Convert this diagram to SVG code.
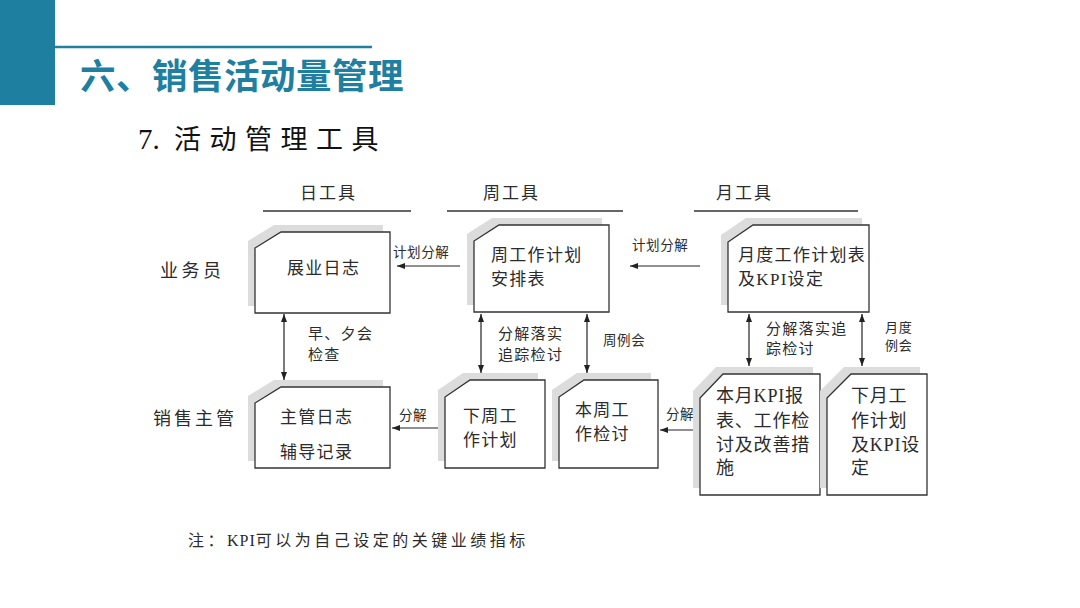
<svg xmlns="http://www.w3.org/2000/svg" width="1080" height="608" viewBox="0 0 1080 608">
<style>
.t{font-family:"Liberation Serif","Noto Sans CJK SC",serif;fill:#2b2b2b}
.b{font-size:17px;letter-spacing:1.3px}
.s{font-size:13.5px;letter-spacing:0.6px}
.m{font-size:15px;letter-spacing:1.3px}
.box{fill:#fff;stroke:#333;stroke-width:1.3}
.sh{fill:#dcdcdc}
.ln{stroke:#222;stroke-width:1.2;fill:none}
.hd{stroke:#666;stroke-width:2}
</style>
<defs>
<marker id="ah" viewBox="0 0 8 6" refX="8" refY="3" markerWidth="8" markerHeight="6" markerUnits="userSpaceOnUse" orient="auto-start-reverse">
<path d="M0,0 L8,3 L0,6 z" fill="#222"/>
</marker>
</defs>
<rect width="1080" height="608" fill="#fff"/>
<g id="header">
<rect x="0" y="0" width="55" height="105" fill="#1e7fa0"/>
<line x1="55" y1="47" x2="372" y2="47" stroke="#1e7fa0" stroke-width="2.5"/>
<text x="80" y="89" font-family="Noto Sans CJK SC, sans-serif" font-weight="bold" font-size="35.5" letter-spacing="0.5" fill="#1e7fa0">六、销售活动量管理</text>
<text x="138" y="149" font-family="Liberation Serif, Noto Sans CJK SC, serif" font-size="29" fill="#111">7.<tspan x="174" font-family="Noto Sans CJK SC, sans-serif" font-size="27" letter-spacing="8.5">活动管理工具</tspan></text>
</g>
<g id="columns">
<text class="t" x="300" y="199" font-size="17" letter-spacing="2">日工具</text>
<text class="t" x="483" y="199" font-size="17" letter-spacing="2">周工具</text>
<text class="t" x="716" y="199" font-size="17" letter-spacing="2">月工具</text>
<line class="hd" x1="263" y1="211" x2="411" y2="211"/>
<line class="hd" x1="447" y1="211" x2="623" y2="211"/>
<line class="hd" x1="694" y1="211" x2="858" y2="211"/>
<text class="t" x="160" y="277" font-size="18" letter-spacing="3.5">业务员</text>
<text class="t" x="153" y="425" font-size="18" letter-spacing="3">销售主管</text>
</g>
<g id="connectors">
<path class="ln" d="M460,266 H397" marker-end="url(#ah)"/>
<path class="ln" d="M700,266 H630" marker-end="url(#ah)"/>
<path class="ln" d="M284,314 V380" marker-start="url(#ah)" marker-end="url(#ah)"/>
<path class="ln" d="M481,314 V373" marker-start="url(#ah)" marker-end="url(#ah)"/>
<path class="ln" d="M587,314 V373" marker-start="url(#ah)" marker-end="url(#ah)"/>
<path class="ln" d="M749,314 V366" marker-start="url(#ah)" marker-end="url(#ah)"/>
<path class="ln" d="M862,314 V366" marker-start="url(#ah)" marker-end="url(#ah)"/>
<path class="ln" d="M439,428 H392" marker-end="url(#ah)"/>
<path class="ln" d="M693,430 H660" marker-end="url(#ah)"/>
<text class="t s" x="393" y="257">计划分解</text>
<text class="t s" x="632" y="250">计划分解</text>
<text class="t m" x="308" y="339">早、夕会</text>
<text class="t m" x="308" y="360">检查</text>
<text class="t m" x="498" y="339">分解落实</text>
<text class="t m" x="498" y="360">追踪检讨</text>
<text class="t s" x="603" y="345">周例会</text>
<text class="t m" x="766" y="334">分解落实追</text>
<text class="t m" x="766" y="354">踪检讨</text>
<text class="t" x="885" y="332" font-size="13" letter-spacing="0.8">月度</text>
<text class="t" x="885" y="350" font-size="13" letter-spacing="0.8">例会</text>
<text class="t s" x="399" y="420">分解</text>
<text class="t s" x="666" y="419">分解</text>
</g>
<g id="n1">
<path class="sh" d="M274,225 H383 V306 H248 V241 Z"/>
<path class="box" d="M281,232 H390 V313 H255 V248 Z"/>
<text class="t b" x="287" y="274">展业日志</text>
</g>
<g id="n2">
<path class="sh" d="M492,218 H602 V305 H467 V234 Z"/>
<path class="box" d="M499,225 H609 V312 H474 V241 Z"/>
<text class="t b" x="491" y="261">周工作计划</text>
<text class="t b" x="491" y="285">安排表</text>
</g>
<g id="n3">
<path class="sh" d="M746,218 H862 V305 H721 V235 Z"/>
<path class="box" d="M753,225 H869 V312 H728 V242 Z"/>
<text class="t b" x="738" y="261" letter-spacing="1.6">月度工作计划表</text>
<text class="t b" x="738" y="285" letter-spacing="1.6">及KPI设定</text>
</g>
<g id="n4">
<path class="sh" d="M274,380 H383 V461 H248 V396 Z"/>
<path class="box" d="M281,387 H390 V468 H255 V403 Z"/>
<text class="t b" x="280" y="423">主管日志</text>
<text class="t b" x="280" y="458">辅导记录</text>
</g>
<g id="n5">
<path class="sh" d="M463,373 H538 V461 H438 V390 Z"/>
<path class="box" d="M470,380 H545 V468 H445 V397 Z"/>
<text class="t b" x="463" y="422">下周工</text>
<text class="t b" x="463" y="446">作计划</text>
</g>
<g id="n6">
<path class="sh" d="M577,373 H651 V461 H552 V390 Z"/>
<path class="box" d="M584,380 H658 V468 H559 V397 Z"/>
<text class="t b" x="575" y="416">本周工</text>
<text class="t b" x="575" y="440">作检讨</text>
</g>
<g id="n7">
<path class="sh" d="M716,367 H813 V488 H693 V391 Z"/>
<path class="box" d="M723,374 H820 V495 H700 V398 Z"/>
<text class="t" x="716" y="402" font-size="18" letter-spacing="0.8">本月KPI报</text>
<text class="t" x="716" y="427" font-size="18" letter-spacing="0.8">表、工作检</text>
<text class="t" x="716" y="451" font-size="18" letter-spacing="0.8">讨及改善措</text>
<text class="t" x="716" y="474" font-size="18" letter-spacing="0.8">施</text>
</g>
<g id="n8">
<path class="sh" d="M844,367 H920 V488 H820 V391 Z"/>
<path class="box" d="M851,374 H927 V495 H827 V398 Z"/>
<text class="t" x="851" y="402" font-size="18" letter-spacing="0.8">下月工</text>
<text class="t" x="851" y="427" font-size="18" letter-spacing="0.8">作计划</text>
<text class="t" x="851" y="451" font-size="18" letter-spacing="0.8">及KPI设</text>
<text class="t" x="851" y="474" font-size="18" letter-spacing="0.8">定</text>
</g>
<g id="note">
<text class="t" x="188" y="546" font-size="16" letter-spacing="3.5">注：<tspan letter-spacing="1">KPI</tspan>可以为自己设定的关键业绩指标</text>
</g>
</svg>
